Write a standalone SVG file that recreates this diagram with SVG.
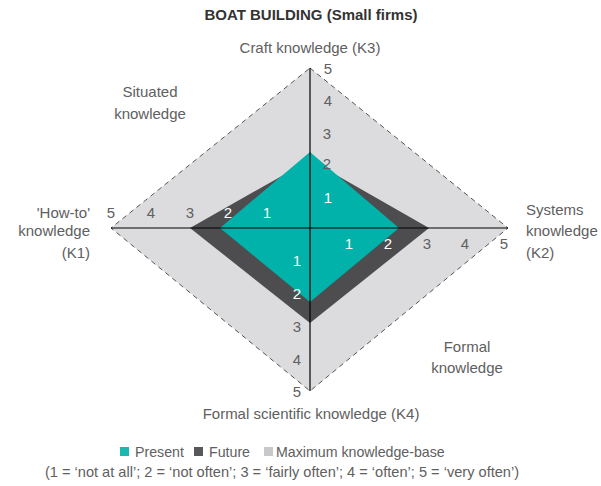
<svg xmlns="http://www.w3.org/2000/svg" width="601" height="486" viewBox="0 0 601 486">
<style>
text{font-family:"Liberation Sans",Arial,sans-serif;fill:#606060}
.t{font-size:15px}
.k{font-size:15px;text-anchor:middle}
.w{fill:#ffffff}
.title{font-size:15px;font-weight:bold;fill:#333333;text-anchor:middle}
.lg{font-size:14.2px}
</style>
<rect width="601" height="486" fill="#ffffff"/>
<text class="title" x="311" y="20">BOAT BUILDING (Small firms)</text>
<g id="max">
<polygon points="310,68 508,228 310,391 111,228" fill="#dcdcde" stroke="#555555" stroke-width="1" stroke-dasharray="5,4"/>
</g>
<g id="future">
<polygon points="310,160 429,228 310,323 190,228" fill="#4d4d4f"/>
</g>
<g id="present">
<polygon points="310,152 399,228 310,302 220,228" fill="#00b2aa"/>
</g>
<g id="axes" stroke="#000000" stroke-width="1.2">
<line x1="310" y1="68" x2="310" y2="391"/>
<line x1="111" y1="228" x2="508" y2="228"/>
</g>
<g id="ticks">
<text class="k" x="328" y="73.5">5</text>
<text class="k" x="328" y="105.5">4</text>
<text class="k" x="327" y="138.5">3</text>
<text class="k" x="327" y="168.5">2</text>
<text class="k w" x="328" y="202.5">1</text>
<text class="k" x="111" y="217.5">5</text>
<text class="k" x="151" y="217.5">4</text>
<text class="k" x="190" y="217.5">3</text>
<text class="k w" x="228" y="217.5">2</text>
<text class="k w" x="267" y="217.5">1</text>
<text class="k w" x="349" y="248.5">1</text>
<text class="k w" x="388" y="248.5">2</text>
<text class="k" x="427" y="248.5">3</text>
<text class="k" x="465" y="248.5">4</text>
<text class="k" x="504" y="248.5">5</text>
<text class="k w" x="297" y="265.5">1</text>
<text class="k w" x="297" y="298.5">2</text>
<text class="k" x="297" y="331.5">3</text>
<text class="k" x="297" y="364.5">4</text>
<text class="k" x="297" y="396.5">5</text>
</g>
<g id="label-k3"><text class="k" x="310" y="52.5">Craft knowledge (K3)</text></g>
<g id="label-situated"><text class="k" x="150" y="96.5">Situated</text><text class="k" x="150" y="118.5">knowledge</text></g>
<g id="label-k1"><text class="t" x="90" y="217.5" text-anchor="end">'How-to'</text><text class="t" x="90" y="235.5" text-anchor="end">knowledge</text><text class="t" x="90" y="257.5" text-anchor="end">(K1)</text></g>
<g id="label-k2"><text class="t" x="526" y="214.5">Systems</text><text class="t" x="526" y="235.5">knowledge</text><text class="t" x="526" y="257.5">(K2)</text></g>
<g id="label-formal"><text class="k" x="467" y="351.5">Formal</text><text class="k" x="467" y="372.5">knowledge</text></g>
<g id="label-k4"><text class="k" x="311" y="418.5">Formal scientific knowledge (K4)</text></g>
<g id="legend">
<rect x="120" y="447" width="9" height="9" fill="#1ab8b0"/>
<text class="lg" x="135" y="457">Present</text>
<rect x="194" y="447" width="9" height="9" fill="#58585a"/>
<text class="lg" x="209" y="457">Future</text>
<rect x="264" y="447" width="9" height="9" fill="#c8c8ca"/>
<text class="lg" x="276" y="457">Maximum knowledge-base</text>
<text x="282" y="477" text-anchor="middle" style="font-size:14.6px">(1 = ‘not at all’; 2 = ‘not often’; 3 = ‘fairly often’; 4 = ‘often’; 5 = ‘very often’)</text>
</g>
</svg>
